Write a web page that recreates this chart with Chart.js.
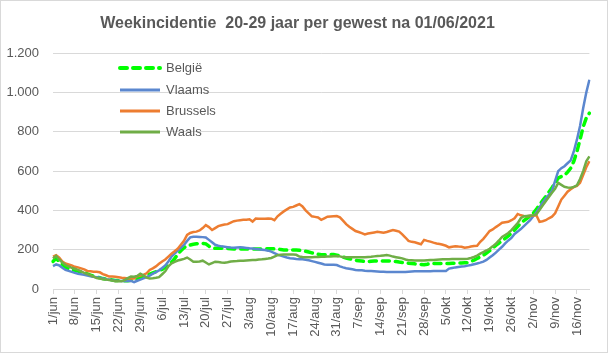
<!DOCTYPE html>
<html>
<head>
<meta charset="utf-8">
<script src="https://cdn.jsdelivr.net/npm/chart.js@4.4.1/dist/chart.umd.min.js"></script>
<style>
  html, body { margin: 0; padding: 0; background: #fff; }
</style>
</head>
<body>
<canvas id="chart" width="608" height="353"></canvas>
<script>
// daily values, 1/jun .. 20/nov 2021
const months = ['jun', 'jul', 'aug', 'sep', 'okt', 'nov'];
const monthDays = [30, 31, 31, 30, 31, 20];
const yTicks = [0, 200, 400, 600, 800, 1000, 1200];

const belgie = [
  140, 156, 140, 125, 110, 104, 99,
  95, 91, 87, 83, 77, 71, 65,
  60, 57, 53, 50, 48, 46, 43,
  43, 42, 42, 42, 44, 46, 52,
  58, 64, 70, 76, 82, 88, 94,
  100, 110, 120, 135, 155, 175, 195,
  210, 220, 224, 228, 230, 232, 232,
  230, 218, 208, 207, 207, 207, 207,
  206, 205, 203, 203, 203, 203, 203,
  203, 203, 204, 204, 204, 205, 205,
  205, 204, 203, 201, 199, 198, 198,
  198, 198, 197, 195, 192, 188, 184,
  180, 177, 174, 174, 175, 175, 175,
  172, 168, 163, 158, 154, 150, 146,
  144, 142, 140, 140, 141, 142, 143,
  143, 143, 142, 142, 141, 140, 137,
  135, 133, 131, 130, 128, 126, 125,
  123, 126, 130, 130, 130, 130, 130,
  130, 130, 131, 131, 132, 132, 133,
  134, 140, 147, 155, 163, 172, 183,
  195, 208, 222, 234, 245, 257, 270,
  285, 300, 318, 335, 348, 360, 372,
  385, 405, 428, 450, 470, 493, 515,
  540, 565, 572, 578, 595, 615, 650,
  700, 760, 825, 870, 895
];

const vlaams = [
  117, 125, 120, 108, 97, 92, 87,
  82, 78, 75, 72, 68, 65, 62,
  60, 57, 54, 50, 48, 46, 43,
  42, 41, 41, 41, 41, 35, 42,
  48, 54, 60, 68, 78, 86, 95,
  107, 120, 140, 165, 180, 195, 210,
  225, 245, 263, 266, 266, 265, 264,
  262, 250, 238, 225, 220, 217, 215,
  213, 211, 210, 211, 212, 211, 209,
  207, 206, 204, 202, 200, 198, 195,
  190, 183, 175, 170, 165, 160, 157,
  155, 153, 152, 151, 149, 146, 142,
  138, 134, 130, 125, 124, 124, 123,
  122, 115, 110, 106, 103, 100, 97,
  96, 95, 93, 92, 91, 90, 89,
  88, 88, 87, 87, 86, 86, 86,
  86, 87, 88, 89, 90, 90, 90,
  90, 90, 90, 91, 91, 91, 92,
  92, 104, 107, 110, 112, 114, 116,
  119, 122, 126, 130, 134, 139, 148,
  160, 172, 185, 200, 215, 232, 247,
  260, 280, 292, 305, 320, 335, 350,
  370, 390, 415, 440, 460, 480, 500,
  550, 600, 615, 625, 640, 655, 700,
  760, 830, 920, 1000, 1065
];

const brussels = [
  165, 172, 160, 140, 130, 125, 120,
  113, 110, 105, 100, 92, 90, 88,
  88, 85, 76, 70, 63, 63, 62,
  60, 57, 56, 54, 54, 54, 65,
  68, 72, 80, 97, 105, 115, 128,
  140, 150, 165, 180, 192, 205, 225,
  245, 275, 285, 290, 292, 298, 310,
  325, 315, 300, 310, 320, 324, 328,
  330, 338, 345, 348, 350, 352, 353,
  355, 343, 358, 357, 358, 358, 359,
  358, 350, 370, 383, 395, 405, 415,
  418, 425, 432, 420, 400, 385, 370,
  367, 364, 352, 360, 368, 369, 370,
  371, 365, 348, 330, 317, 306, 295,
  290, 284, 278, 282, 285, 288, 291,
  289, 286, 290, 295, 300, 296, 292,
  278, 262, 245, 240, 238, 233, 228,
  250, 245, 241, 236, 232, 229, 225,
  220, 212, 215, 218, 216, 215, 210,
  212, 216, 219, 220, 240, 255, 275,
  295, 303, 315, 326, 337, 340, 342,
  350, 360, 382, 375, 372, 370, 372,
  374, 375, 342, 345, 350, 360, 368,
  385, 420, 455, 475, 495, 508, 518,
  525, 540, 580, 620, 650
];

const waals = [
  155, 168, 150, 135, 122, 115, 108,
  103, 97, 90, 82, 76, 70, 63,
  56, 53, 50, 48, 46, 43, 40,
  40, 40, 45, 55, 63, 62, 66,
  78, 70, 58, 54, 55, 57, 60,
  75, 90, 115, 130, 138, 145, 149,
  153, 160, 150, 139, 139, 140, 144,
  135, 125, 132, 139, 137, 135, 134,
  136, 140, 141, 142, 144, 144, 145,
  146, 147, 148, 150, 151, 153, 155,
  158, 165, 172, 174, 175, 176, 176,
  175, 174, 165, 163, 162, 162, 162,
  163, 163, 164, 164, 165, 166, 167,
  168, 166, 162, 161, 161, 162, 162,
  161, 162, 162, 163, 164, 166, 168,
  169, 171, 173, 170, 165, 162, 159,
  156, 150, 146, 146, 145, 145, 145,
  145, 146, 147, 148, 149, 150, 151,
  152, 152, 153, 153, 153, 153, 153,
  154, 158, 163, 170, 180, 188, 196,
  205, 217, 230, 247, 265, 275, 285,
  300, 318, 335, 360, 370, 372, 374,
  376, 380, 402, 425, 447, 468, 490,
  510, 540, 530, 520, 517, 515, 520,
  528, 560, 600, 650, 675
];

// category labels d/mon
const labels = [];
months.forEach((m, i) => {
  for (let d = 1; d <= monthDays[i]; d++) labels.push(d + '/' + m);
});

const FONT = '"Liberation Sans", Arial, sans-serif';
const GREY = '#595959';

function fmt(v) {
  if (v >= 1000) return Math.floor(v / 1000) + '.' + String(v % 1000).padStart(3, '0');
  return String(v);
}

const frame = {
  id: 'frame',
  beforeDraw(chart) {
    const c = chart.ctx;
    c.save();
    c.fillStyle = '#fff';
    c.fillRect(0, 0, chart.width, chart.height);
    c.strokeStyle = '#d9d9d9';
    c.lineWidth = 1;
    c.strokeRect(0.5, 0.5, chart.width - 1, chart.height - 1);
    c.restore();
  }
};

// legend sits inside the plot, upper left
const innerLegend = {
  id: 'innerLegend',
  afterDatasetsDraw(chart) {
    const c = chart.ctx;
    const left = chart.chartArea.left + 65;
    const rows = [68, 90, 111, 132];
    chart.data.datasets.forEach((ds, i) => {
      c.save();
      c.strokeStyle = ds.borderColor;
      c.lineWidth = ds.borderWidth + 0.5;
      c.lineCap = ds.borderCapStyle || 'butt';
      c.setLineDash(ds.borderDash || []);
      c.beginPath();
      c.moveTo(left + 2, rows[i]);
      c.lineTo(left + 42, rows[i]);
      c.stroke();
      c.setLineDash([]);
      c.fillStyle = GREY;
      c.font = '13px ' + FONT;
      c.textBaseline = 'middle';
      c.fillText(ds.label, left + 48, rows[i]);
      c.restore();
    });
  }
};

new Chart(document.getElementById('chart'), {
  type: 'line',
  data: {
    labels: labels,
    datasets: [
      { label: 'België', data: belgie, borderColor: '#00ff00', borderWidth: 3.5,
        borderDash: [7, 6], borderCapStyle: 'round', order: 4 },
      { label: 'Vlaams', data: vlaams, borderColor: '#5b87cf', borderWidth: 2.5, order: 3 },
      { label: 'Brussels', data: brussels, borderColor: '#ed7d31', borderWidth: 2.5, order: 2 },
      { label: 'Waals', data: waals, borderColor: '#70ad47', borderWidth: 2.5, order: 1 }
    ]
  },
  options: {
    responsive: false,
    animation: false,
    layout: { padding: { left: 0, right: 13, top: 0, bottom: 0 } },
    elements: {
      point: { radius: 0 },
      line: { tension: 0, fill: false }
    },
    plugins: {
      legend: { display: false },
      tooltip: { enabled: false },
      title: {
        display: true,
        text: 'Weekincidentie  20-29 jaar per gewest na 01/06/2021',
        color: GREY,
        font: { family: FONT, size: 16, weight: 'bold' },
        padding: { top: 14, bottom: 20 }
      }
    },
    scales: {
      x: {
        type: 'category',
        offset: false,
        afterFit(scale) { scale.height = 64; },
        border: { color: '#d9d9d9' },
        grid: {
          drawOnChartArea: false,
          tickLength: 5,
          color: ctx => (ctx.index % 7 === 0 ? '#d9d9d9' : 'rgba(0,0,0,0)')
        },
        ticks: {
          autoSkip: false,
          minRotation: 90,
          maxRotation: 90,
          padding: 3,
          color: GREY,
          font: { family: FONT, size: 13 },
          callback: function (v, i) { return i % 7 === 0 ? this.getLabelForValue(v) : ''; }
        }
      },
      y: {
        min: 0,
        max: 1200,
        afterFit(scale) { scale.width = 53; },
        afterBuildTicks(scale) { scale.ticks = yTicks.map(v => ({ value: v })); },
        border: { display: false },
        grid: { color: '#d9d9d9', drawTicks: false },
        ticks: {
          padding: 14,
          color: GREY,
          font: { family: FONT, size: 13 },
          callback: v => fmt(v)
        }
      }
    }
  },
  plugins: [frame, innerLegend]
});
</script>
</body>
</html>
